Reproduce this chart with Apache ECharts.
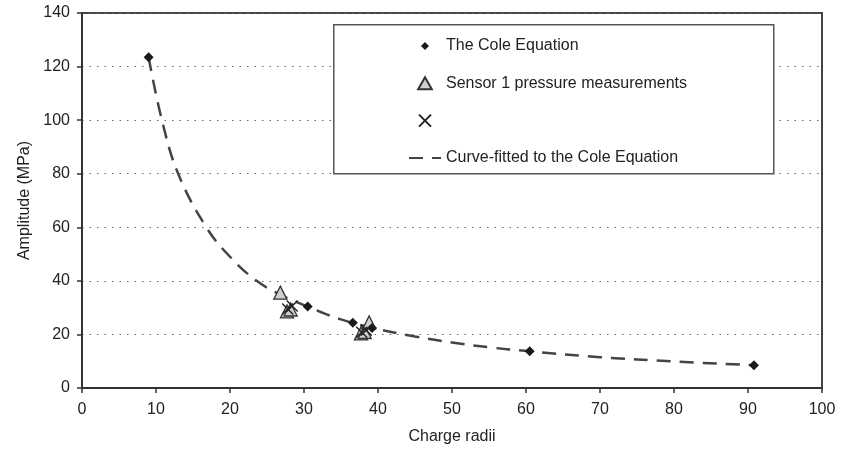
<!DOCTYPE html>
<html>
<head>
<meta charset="utf-8">
<script src="https://cdn.jsdelivr.net/npm/echarts@6/dist/echarts.min.js"></script>
<style>html,body{margin:0;padding:0;background:#fff}#c{width:853px;height:450px}</style>
</head>
<body>
<div id="c"></div>
<script>
// Data
var coleEquation = [[9, 123.5], [30.5, 30.4], [36.6, 24.4], [39.2, 22.4], [60.5, 13.7], [90.8, 8.5]];
var sensor1 = [[26.8, 35.6], [27.7, 28.6], [28.2, 29.3], [37.7, 20.4], [38.2, 20.9], [38.8, 24.5]];
var crosses = [[27.8, 29.5], [28.4, 30.6], [37.8, 20.8], [38.4, 21.6]];
var curveFit = [[9, 123.5], [10.8, 100], [13, 80], [16.8, 60], [20, 49], [23.6, 40], [27, 34.6],
  [30.5, 30.4], [35, 25.6], [40, 22], [45, 19.2], [50, 17], [55, 15.2], [60.5, 13.7],
  [70, 11.5], [80, 9.9], [90.8, 8.5]];
var xTicks = {min: 0, max: 100, interval: 10};
var yTicks = {min: 0, max: 140, interval: 20};
var names = ['The Cole Equation', 'Sensor 1 pressure measurements', ' ', 'Curve-fitted to the Cole Equation'];

var font = 'Liberation Sans, Arial, sans-serif';
var chart = echarts.init(document.getElementById('c'), null, {renderer: 'canvas'});
chart.setOption({
  animation: false,
  textStyle: {fontFamily: font},
  grid: {left: 82, right: 31, top: 13, bottom: 60, show: true, borderColor: '#444', borderWidth: 2},
  graphic: [{
    type: 'rect', z: 50, left: 333, top: 24,
    shape: {width: 440, height: 149},
    style: {fill: '#fff', stroke: '#555', lineWidth: 1.5}
  }],
  legend: {
    z: 60,
    orient: 'vertical', left: 403, top: 33,
    data: [
      {name: names[0], icon: 'path://M0,0L0.01,0M2,6L6,2L10,6L6,10ZM12,12L12.01,12'},
      {name: names[1], icon: 'path://M0,11L6,0.5L12,11Z'},
      {name: names[2]},
      {name: names[3], itemStyle: {opacity: 0}}
    ],
    itemWidth: 32, itemHeight: 12, itemGap: 21.3,
    textStyle: {fontSize: 16, color: '#222', fontFamily: font, lineHeight: 16},
    selectedMode: false
  },
  xAxis: {
    type: 'value', min: xTicks.min, max: xTicks.max, interval: xTicks.interval,
    name: 'Charge radii', nameLocation: 'middle', nameGap: 41,
    nameTextStyle: {fontSize: 16, color: '#222'},
    axisLine: {lineStyle: {color: '#333', width: 2}},
    axisTick: {show: true, length: 5, lineStyle: {color: '#333', width: 1.5}},
    axisLabel: {fontSize: 16, color: '#222', margin: 14},
    splitLine: {show: false}
  },
  yAxis: {
    type: 'value', min: yTicks.min, max: yTicks.max, interval: yTicks.interval,
    name: 'Amplitude (MPa)', nameLocation: 'middle', nameGap: 48,
    nameTextStyle: {fontSize: 16, color: '#222'},
    axisLine: {show: true, lineStyle: {color: '#333', width: 2}},
    axisTick: {show: true, length: 5, lineStyle: {color: '#333', width: 1.5}},
    axisLabel: {fontSize: 16, color: '#222', margin: 12},
    splitLine: {show: true, lineStyle: {color: '#666', width: 1.2, type: [1.5, 6]}}
  },
  series: [
    {
      name: names[3], type: 'line', data: curveFit, smooth: 0.4, showSymbol: false,
      lineStyle: {color: '#444', width: 2.5, type: [14, 9]}, itemStyle: {color: '#444'}, z: 2
    },
    {
      name: names[0], type: 'scatter', data: coleEquation, symbol: 'diamond', symbolSize: 10,
      itemStyle: {color: '#1a1a1a', opacity: 1}, z: 4
    },
    {
      name: names[1], type: 'scatter', data: sensor1, symbol: 'triangle', symbolSize: 13,
      itemStyle: {color: '#d0d0d0', borderColor: '#333', borderWidth: 1.3, opacity: 1}, z: 3
    },
    {
      name: names[2], type: 'scatter', data: crosses, symbol: 'path://M0,0L10,10M10,0L0,10', symbolSize: 11,
      symbolKeepAspect: true,
      itemStyle: {color: 'rgba(0,0,0,0)', borderColor: '#222', borderWidth: 1.5, opacity: 1}, z: 5
    }
  ]
});
</script>
</body>
</html>
